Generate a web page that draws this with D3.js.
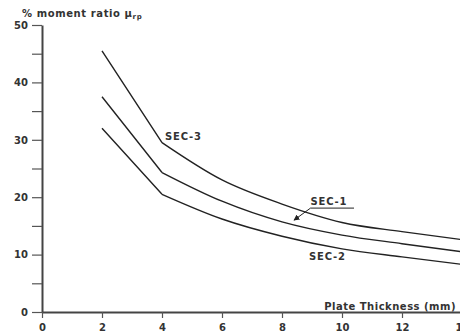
<!DOCTYPE html>
<html>
<head>
<meta charset="utf-8">
<script src="https://cdn.jsdelivr.net/npm/d3@7"></script>
<style>
  body { margin: 0; background: #fff; }
  text { font-family: "DejaVu Sans", "Liberation Sans", sans-serif; fill: #333; font-weight: bold; }
</style>
</head>
<body>
<div id="chart"></div>
<script>
// plate thickness (mm)
const thickness = [2, 4, 6, 8, 10, 12, 14];
// % moment ratio per section
const sec3 = [45.5, 29.5, 23.0, 18.8, 15.6, 14.0, 12.6];
const sec1 = [37.5, 24.3, 19.3, 15.7, 13.4, 11.9, 10.5];
const sec2 = [32.0, 20.5, 16.2, 13.2, 11.0, 9.6, 8.3];
const xTicks = [0, 2, 4, 6, 8, 10, 12, 14];
const yTicks = [0, 5, 10, 15, 20, 25, 30, 35, 40, 45, 50];

let width = 460, height = 335;

let svg = d3.select("#chart")
    .append("svg")
    .attr("width", width)
    .attr("height", height);

// scales
let x = d3.scaleLinear().domain([0, 14]).range([42, 462]);
let y = d3.scaleLinear().domain([0, 50]).range([312, 25]);

// y axis: ticks every 5, labels every 10
let yAxis = svg.append("g")
    .attr("transform", `translate(${x(0)},0)`)
    .call(d3.axisLeft(y)
        .tickValues(yTicks)
        .tickSize(10)
        .tickSizeOuter(0)
        .tickPadding(4)
        .tickFormat(d => d % 10 === 0 ? d : ""));
yAxis.select(".domain").attr("stroke", "#444").attr("stroke-width", 2);
yAxis.selectAll(".tick line").attr("stroke", "#555").attr("stroke-width", 1.2);
yAxis.selectAll(".tick text")
    .style("font-size", "10px").attr("fill", "#333");

// x axis
let xAxis = svg.append("g")
    .attr("transform", `translate(0,${y(0)})`)
    .call(d3.axisBottom(x)
        .tickValues(xTicks)
        .tickSize(6)
        .tickSizeOuter(0)
        .tickPadding(6));
xAxis.select(".domain").attr("stroke", "#444").attr("stroke-width", 2);
xAxis.selectAll(".tick line").attr("stroke", "#555").attr("stroke-width", 1.2);
xAxis.selectAll(".tick text")
    .style("font-size", "10px").attr("fill", "#333");
svg.selectAll("g").attr("font-family", null);

// curves: straight from 2 to 4 mm, then a smooth fall-off
let pts = s => s.map((v, i) => [x(thickness[i]), y(v)]);
let straight = d3.line();
let smooth = d3.line().curve(d3.curveMonotoneX);

[sec3, sec1, sec2].forEach(s => {
    let p = pts(s);
    svg.append("path")
        .attr("fill", "none")
        .attr("stroke", "#222")
        .attr("stroke-width", 1.4)
        .attr("stroke-linejoin", "round")
        .attr("d", straight(p.slice(0, 2)) + smooth(p.slice(1)));
});

// axis titles
let yTitle = svg.append("text")
    .attr("x", 22)
    .attr("y", 17)
    .style("font-size", "10px")
    .style("letter-spacing", "0.6px")
    .text("% moment ratio \u03bc");
yTitle.append("tspan")
    .attr("dy", 2)
    .style("font-size", "7px")
    .text("rp");

svg.append("text")
    .attr("x", 456)
    .attr("y", 309.5)
    .style("text-anchor", "end")
    .style("font-size", "10px")
    .style("letter-spacing", "0.5px")
    .text("Plate Thickness (mm)");

// curve labels
const labelStyle = sel => sel.style("font-size", "10px").style("letter-spacing", "0.8px");

svg.append("text").attr("x", x(4.1)).attr("y", y(30.0)).call(labelStyle).text("SEC-3");
svg.append("text").attr("x", x(8.95)).attr("y", y(18.6)).call(labelStyle).text("SEC-1");
svg.append("text").attr("x", x(8.9)).attr("y", y(9.0)).call(labelStyle).text("SEC-2");

// SEC-1 underline and leader arrow
svg.append("line")
    .attr("x1", x(8.95)).attr("y1", y(18.1))
    .attr("x2", x(10.4)).attr("y2", y(18.1))
    .attr("stroke", "#222").attr("stroke-width", 1);
svg.append("defs").append("marker")
    .attr("id", "arrow")
    .attr("viewBox", "0 0 10 10")
    .attr("refX", 9).attr("refY", 5)
    .attr("markerWidth", 6).attr("markerHeight", 6)
    .attr("orient", "auto")
    .append("path")
    .attr("d", "M0,0L10,5L0,10z")
    .attr("fill", "#222");
svg.append("line")
    .attr("x1", x(8.95)).attr("y1", y(18.1))
    .attr("x2", x(8.4)).attr("y2", y(16.0))
    .attr("stroke", "#222").attr("stroke-width", 1)
    .attr("marker-end", "url(#arrow)");
</script>
</body>
</html>
